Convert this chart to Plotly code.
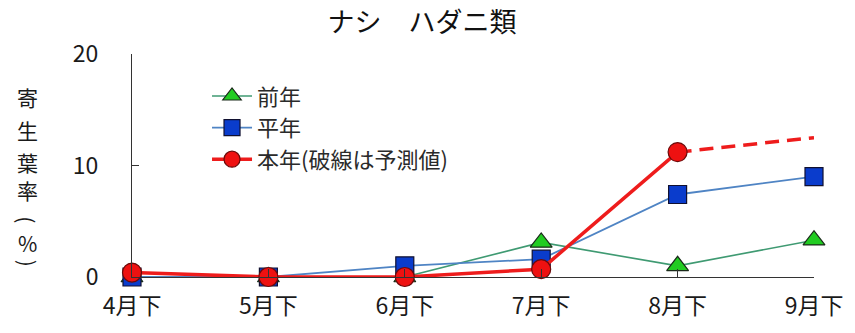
import plotly.graph_objects as go

# 調査時期
categories = ["4月下", "5月下", "6月下", "7月下", "8月下", "9月下"]

# 寄生葉率（%）
prev_year = [0.0, 0.0, 0.0, 3.1, 1.0, 3.3]        # 前年
normal_year = [0.0, 0.0, 1.0, 1.6, 7.4, 9.0]      # 平年
this_year = [0.4, 0.0, 0.0, 0.7, 11.2]            # 本年（実測）
forecast_x = ["8月下", "9月下"]
forecast = [11.2, 12.5]                           # 本年（予測値）

# 縦書きの軸タイトル（括弧は90°回転させて縦書き用の形にする）
y_title_chars = ["寄", "生", "葉", "率", "(", "%", ")"]
y_title_pos = [98, 131, 163, 192, 222, 246, 266]   # 各文字の中心（上端からのpx）
y_title_angle = [0, 0, 0, 0, 90, 0, 90]

FONT = "Noto Sans CJK JP"
W, H = 855, 333
ML, MR, MT, MB = 132, 38, 54, 53
PLOT_H = H - MT - MB
PLOT_W = W - ML - MR

fig = go.Figure()

fig.add_trace(go.Scatter(
    x=categories, y=prev_year, name="前年", mode="lines+markers",
    line=dict(color="#3f9a72", width=1.6),
    marker=dict(symbol="triangle-up", size=19, color="#22cc22",
                line=dict(color="#1a2a1a", width=1.2)),
    cliponaxis=False,
))
fig.add_trace(go.Scatter(
    x=categories, y=normal_year, name="平年", mode="lines+markers",
    line=dict(color="#4f84c4", width=1.8),
    marker=dict(symbol="square", size=18, color="#0a3ccc",
                line=dict(color="#101030", width=1.2)),
    cliponaxis=False,
))
fig.add_trace(go.Scatter(
    x=forecast_x, y=forecast, name="予測", mode="lines", showlegend=False,
    line=dict(color="#ee1c1c", width=3.5, dash="14px,8px"),
    cliponaxis=False,
))
fig.add_trace(go.Scatter(
    x=categories[:len(this_year)], y=this_year, name="本年(破線は予測値)",
    mode="lines+markers",
    line=dict(color="#ee1c1c", width=3.5),
    marker=dict(symbol="circle", size=19, color="#ee1111",
                line=dict(color="#6a0a0a", width=1.2)),
    cliponaxis=False,
))

annotations = [
    dict(text=ch, xref="paper", yref="paper", textangle=ang,
         x=(27 - ML) / PLOT_W, y=(H - MB - py) / PLOT_H,
         xanchor="center", yanchor="middle", showarrow=False, borderpad=0,
         font=dict(family=FONT, size=21, color="#1a1a1a"))
    for ch, py, ang in zip(y_title_chars, y_title_pos, y_title_angle)
]

fig.update_layout(
    width=W, height=H,
    margin=dict(l=ML, r=MR, t=MT, b=MB),
    paper_bgcolor="white", plot_bgcolor="white",
    font=dict(family=FONT, size=23, color="#1a1a1a"),
    title=dict(text="ナシ　ハダニ類", x=(422 / W), xanchor="center", y=1 - 23 / H,
               yanchor="middle", font=dict(family=FONT, size=27, color="#111111")),
    showlegend=True,
    legend=dict(x=0.11, y=0.905, xanchor="left", yanchor="top",
                bgcolor="rgba(0,0,0,0)", font=dict(family=FONT, size=22, color="#2a2a2a"),
                tracegroupgap=0, itemwidth=40, traceorder="normal"),
    xaxis=dict(
        type="category", range=[0, 5], showgrid=False, zeroline=False,
        showline=True, linecolor="#333333", linewidth=1,
        ticks="inside", ticklen=8, tickcolor="#333333",
        tickfont=dict(family=FONT, size=23, color="#1a1a1a"),
        ticklabelstandoff=8,
    ),
    yaxis=dict(
        range=[0, 20], tickvals=[0, 10, 20], showgrid=False, zeroline=False,
        showline=True, linecolor="#333333", linewidth=1,
        ticks="inside", ticklen=7, tickcolor="#333333",
        tickfont=dict(family=FONT, size=23, color="#1a1a1a"),
        ticklabelstandoff=28,
    ),
    annotations=annotations,
)

fig.write_html("out.html")
